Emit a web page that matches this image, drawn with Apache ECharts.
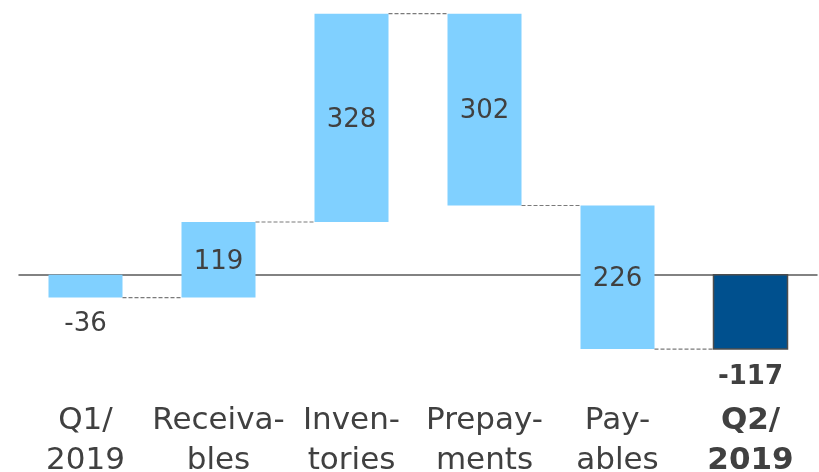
<!DOCTYPE html>
<html>
<head>
<meta charset="utf-8">
<script src="https://cdn.jsdelivr.net/npm/echarts@6/dist/echarts.min.js"></script>
<style>
  html, body { margin: 0; background: #fff; }
  #chart { width: 819px; height: 472px; }
</style>
</head>
<body>
<div id="chart"></div>
<script>
// data
const categories = ['Q1/\n2019', 'Receiva-\nbles', 'Inven-\ntories', 'Prepay-\nments', 'Pay-\nables', 'Q2/\n2019'];
const values = [-36, 119, 328, -302, -226, -117];
const isTotal = [true, false, false, false, false, true];

// start / end of every step of the waterfall
let level = 0;
const steps = values.map((v, i) => {
    const start = isTotal[i] ? 0 : level;
    const end = start + v;
    level = end;
    return [i, start, end, v];
});

const BAR_W = 74;
const FONT = 'DejaVu Sans';

function renderStep(params, api) {
    const i = api.value(0);
    const start = api.value(1);
    const end = api.value(2);
    const v = api.value(3);
    const p0 = api.coord([i, start]);
    const p1 = api.coord([i, end]);
    const x = p0[0] - BAR_W / 2;
    const yTop = Math.min(p0[1], p1[1]);
    const yBot = Math.max(p0[1], p1[1]);
    const total = isTotal[i];
    const last = i === values.length - 1;

    const children = [{
        type: 'rect',
        shape: { x: x, y: yTop, width: BAR_W, height: yBot - yTop },
        style: total && last
            ? { fill: '#00508E', stroke: '#4d4d4d', lineWidth: 1.5 }
            : { fill: '#80D0FF' }
    }];

    //数值标签
    if (total) {
        children.push({
            type: 'text',
            style: {
                text: String(v), x: p0[0], y: yBot + (last ? 28 : 27),
                align: 'center', verticalAlign: 'middle',
                fontFamily: FONT, fontSize: 26,
                fontWeight: last ? 'bold' : 'normal', fill: '#404040'
            }
        });
    } else {
        children.push({
            type: 'text',
            style: {
                text: String(Math.abs(v)), x: p0[0], y: (yTop + yBot) / 2 + 2,
                align: 'center', verticalAlign: 'middle',
                fontFamily: FONT, fontSize: 26, fill: '#404040'
            }
        });
    }

    // dashed connector to the next bar
    if (i < values.length - 1) {
        const n = api.coord([i + 1, end]);
        children.push({
            type: 'line',
            shape: { x1: x + BAR_W, y1: p1[1], x2: n[0] - BAR_W / 2, y2: p1[1] },
            style: { stroke: '#7a7a7a', lineWidth: 1.2, lineDash: [4, 2] }
        });
    }
    return { type: 'group', children: children };
}

const chart = echarts.init(document.getElementById('chart'));
chart.setOption({
    animation: false,
    grid: { left: 19, right: 2, top: 8, bottom: 102, outerBoundsMode: 'none', containLabel: false },
    xAxis: [{
        type: 'category',
        data: categories,
        axisLine: { show: false, onZero: false },
        axisTick: { show: false },
        axisLabel: {
            interval: 0,
            margin: 31,
            fontFamily: FONT,
            fontSize: 31,
            lineHeight: 40,
            color: '#404040',
            formatter: function (val, idx) {
                return idx === categories.length - 1 ? '{b|' + val.replace('\n', '}\n{b|') + '}' : val;
            },
            rich: { b: { fontFamily: FONT, fontSize: 31, lineHeight: 40, fontWeight: 'bold', color: '#404040' } }
        }
    }, {
        type: 'category',
        data: categories,
        axisLine: { show: true, onZero: true, lineStyle: { color: '#5a5a5a', width: 1.5 } },
        axisTick: { show: false },
        axisLabel: { show: false }
    }],
    yAxis: {
        type: 'value',
        min: -150,
        max: 420,
        show: false,
        splitLine: { show: false }
    },
    series: [{
        type: 'custom',
        renderItem: renderStep,
        encode: { x: 0, y: [1, 2] },
        data: steps,
        z: 3
    }]
});
</script>
</body>
</html>
